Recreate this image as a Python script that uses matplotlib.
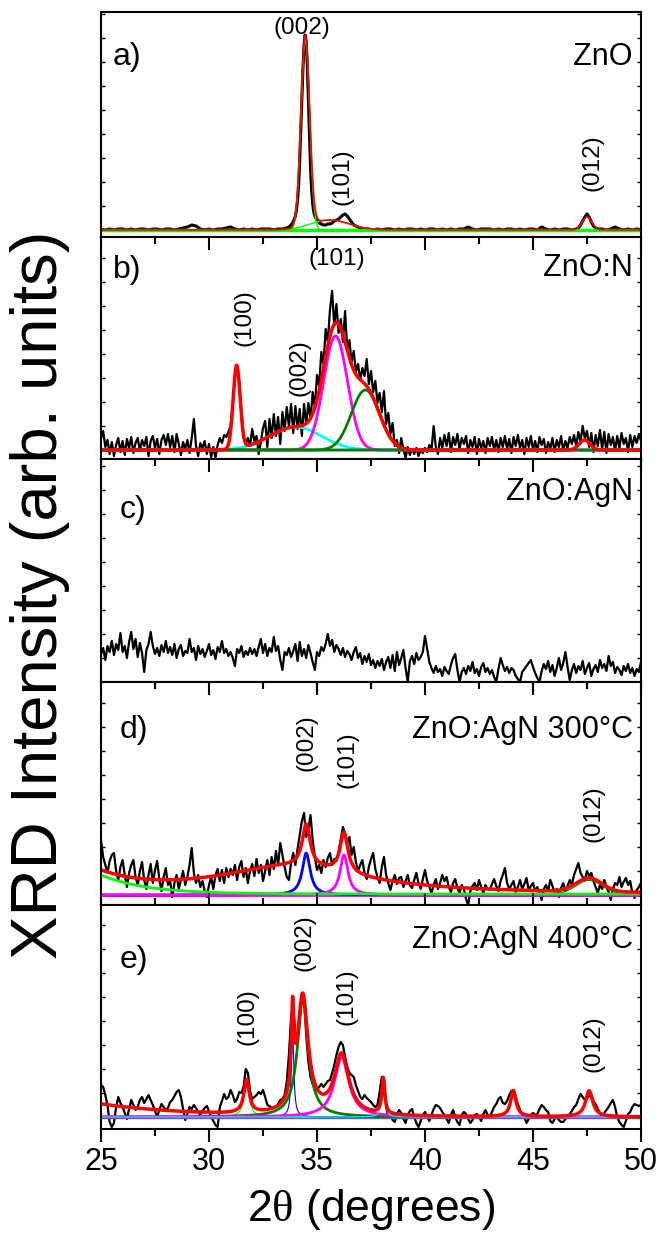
import numpy as np
import matplotlib
matplotlib.use("Agg")
import matplotlib.pyplot as plt
import matplotlib.transforms as mtransforms
from matplotlib.ticker import MultipleLocator

plt.rcParams['font.family'] = ['Liberation Sans', 'DejaVu Sans']
plt.rcParams['mathtext.fontset'] = 'custom'
plt.rcParams['mathtext.rm'] = 'Liberation Serif'

# ---------------------------------------------------------------- data
# a) ZnO : measured pattern (2theta, counts above baseline)
zno_2theta = np.round(np.concatenate([
    np.arange(25.0, 33.61, 0.2), np.arange(33.7, 33.95, 0.1),
    np.arange(34.0, 34.91, 0.05), np.arange(35.0, 36.81, 0.1),
    np.arange(37.0, 46.81, 0.2), np.arange(47.0, 48.01, 0.1),
    np.arange(48.2, 50.01, 0.2)]), 2)
zno_counts = [
    1, 0, 1, 0, 1, 1, 0, 1, 0, 1, 1, 0, 1, 1, 0, 1, 1, 0, 1, 2,
    3, 5, 4, 1, 0, 1, 0, 1, 1, 2, 3, 1, 0, 1, 0, 1, 0, 1, 1, 1, 0, 1, 1, 2,
    3, 5, 8,
    14, 20, 30, 45, 70, 100, 132, 162, 185, 195, 188, 165, 130, 95, 62, 40, 26, 18, 14,
    10, 7, 6, 5, 5, 6, 6, 7, 9, 10, 11, 13, 15, 16, 14, 11, 8, 5, 4,
    2, 1, 1, 0, 1, 0, 1, 1, 0, 1, 0, 1, 1, 0, 1, 0, 1, 1, 0, 1,
    0, 1, 0, 1, 1, 3, 1, 0, 1, 1, 1, 0, 1, 0, 1, 1, 0, 1, 0, 1,
    1, 0, 3, 1, 0, 1, 0, 1, 1, 0,
    1, 2, 5, 9, 13, 16, 13, 8, 4, 2, 1,
    1, 0, 1, 3, 1, 0, 1, 0, 1, 0]
zno_peaks_center = [34.46, 35.6, 47.5]
zno_peaks_height = [190, 10, 13]
zno_peaks_sigma = [0.20, 0.9, 0.22]

# b) ZnO:N
zno_n_counts = [
    12, 19, 3, 10, -4, 8, -6, 5, 12, -2, 9, -5, 11, 2, 13, -3, 7, 12, -1, 10,
    4, 13, -6, 9, 14, 2, 11, -4, 10, 15, 5, 16, 3, 14, -2, 16, 6, -5, 8, 1,
    10, -3, 12, 31, 4, -6, 7, 2, 9, -4, 6, -7, 3, -8, 5, 12, 7, 15, 13, 18,
    24, 46, 74, 84, 68, 38, 14, 6, 12, 4, 21, 9, 14, -4, 8, 22, 29, 3, 31, 12,
    36, 14, 33, 6, 38, 19, 43, 24, 46, 17, 44, 21, 41, 14, 46, 26, 47, 31, 58, 42,
    75, 64, 98, 86, 121, 108, 140, 159, 124, 146, 117, 131, 108, 139, 101, 110, 88, 99, 78, 86,
    70, 82, 74, 91, 66, 79, 58, 69, 47, 57, 38, 59, 26, 37, 16, 27, 4, 10, -3, 12,
    1, -8, 3, -5, 1, -4, 2, -6, 0, -3, 2, -2, 5, 0, 24, 3, -4, 12, 2, 15,
    4, 17, -2, 13, 5, 16, 1, 12, 6, 14, -3, 10, 3, 13, -4, 11, 2, 9, -3, 12,
    4, 13, 0, 10, -2, 12, 3, 14, 1, 11, -3, 13, 4, 15, 2, 10, -4, 12, 3, 14,
    0, 9, -2, 13, 5, 11, -3, 8, 1, 12, -2, 10, 3, 14, -1, 9, 2, 13, 6, 15,
    4, 18, 8, 24, 12, 19, 3, 17, -2, 15, 4, 20, 1, 18, -3, 16, 5, 13, -1, 14,
    2, 17, 6, 12, -2, 15, 3, 14, 7, 16, 9]
zno_n_100 = (31.28, 83, 0.16)
zno_n_002 = (34.0, 23, 1.2)
zno_n_101 = (35.86, 114, 0.55)
zno_n_shoulder = (37.24, 60, 0.65)
zno_n_012 = (47.39, 10, 0.25)

# c) ZnO:AgN
zno_agn_counts = [
    28, 34, 22, 36, 30, 41, 27, 38, 32, 49, 30, 36, 24, 40, 50, 33, 43, 25, 39, 29,
    10, 32, 38, 50, 36, 28, 34, 26, 37, 30, 41, 29, 35, 27, 38, 24, 33, 37, 26, 31,
    29, 43, 30, 34, 22, 36, 28, 33, 25, 31, 38, 27, 32, 23, 35, 30, 41, 29, 33, 26,
    30, 24, 16, 33, 29, 36, 25, 31, 27, 34, 28, 33, 26, 35, 43, 29, 38, 26, 34, 30,
    45, 31, 36, 22, 12, 30, 27, 34, 25, 31, 38, 21, 40, 26, 33, 24, 37, 29, 20, 12,
    30, 26, 35, 31, 38, 48, 36, 42, 30, 37, 33, 27, 34, 25, 31, 28, 22, 30, 35, 24,
    29, 18, 26, 20, 28, 17, 22, 14, 21, 16, 23, 12, 20, 25, 14, 27, 11, 30, 17, 24,
    32, 14, 0, 21, 26, 18, 29, 22, 25, 30, 46, 33, 20, 14, 9, 16, 10, 13, 6, 15,
    11, 8, 17, 24, 28, 12, 0, 10, 14, 8, 16, 11, 20, 9, 13, 6, 15, 19, 10, 14,
    8, 12, 5, 0, 13, 24, 17, 11, 15, 9, 14, 12, 6, 3, 0, 10, 13, 16, 19, 22,
    15, 9, 4, 0, 11, 18, 13, 21, 10, 17, 6, 14, 24, 12, 19, 30, 15, 2, 12, 18,
    9, 16, 12, 21, 8, 14, 19, 6, 13, 17, 10, 22, 14, 18, 11, 26, 16, 20, 9, 15,
    12, 7, 16, 11, 18, 9, 14, 6, 13, 10, 20]

# d) ZnO:AgN annealed at 300 C
agn300_counts = [
    55, 38, 30, 22, 34, 40, 42, 24, 15, 28, 35, 20, 8, 22, 30, 35, 18, 10, 24, 33,
    15, 6, 20, 31, 12, 25, 34, 16, 4, 18, 27, 10, 14, -2, 12, 20, 6, 15, 24, 10,
    18, 30, 47, 22, 12, 20, 8, 14, 4, -2, 10, 18, 6, 20, 26, 14, 25, 12, 27, 18,
    26, 20, 30, 15, 28, 34, 18, 27, 12, 24, 31, 19, 36, 22, 30, 14, 24, 35, 20, 38,
    26, 44, 30, 52, 40, 28, 18, 15, 32, 42, 30, 46, 60, 74, 82, 58, 66, 80, 55, 38,
    25, 30, 22, 35, 28, 37, 42, 30, 36, 34, 43, 56, 68, 61, 52, 58, 40, 48, 33, 24,
    30, 35, 22, 16, 28, 36, 42, 26, 18, 12, 28, 38, 20, 12, 5, 14, 20, 11, 17, 18,
    8, 14, 20, 10, 7, 15, 22, 12, 6, 16, 25, 14, 8, 2, 10, 16, 6, 12, 20, 14,
    18, 8, 3, 12, 16, 7, 2, 10, 6, -4, -10, 4, 9, 12, 5, 15, 8, 2, 10, 6,
    5, 11, 16, 9, 4, 14, 20, 27, 12, 6, 10, 14, 3, 8, 15, 6, 11, 17, 5, 9,
    12, 4, 8, 2, -5, 6, 10, 4, 15, 9, 3, 6, -2, 7, 12, 4, 9, 15, 10, 20,
    26, 32, 22, 18, 15, 24, 19, 22, 14, 8, 2, 10, 6, 15, 8, 3, -5, 6, 12, 10,
    18, 8, 13, 17, 10, 14, 2, -3, 5, 8, 12]
agn300_background = (19, 2.1, 1)          # amplitude, decay (deg), offset
agn300_broad = (33.8, 28, 4.2)
agn300_002 = (34.50, 42, 0.22)
agn300_101 = (36.25, 40, 0.22)
agn300_012 = (47.6, 13.6, 0.6)

# e) ZnO:AgN annealed at 400 C
agn400_counts = [
    32, 30, 22, 12, -5, -10, -6, 10, 20, 14, 10, 4, -2, 8, 17, 12, 7, 10, 17, 20,
    14, 18, 22, 17, 12, 6, 0, 7, 13, 10, 7, 9, 15, 17, 21, 25, 27, 20, 8, -3,
    3, 10, 8, 12, 9, 5, 2, 6, 9, 11, 6, 0, -4, -8, -10, 10, 16, 23, 18, 20,
    27, 22, 15, 18, 25, 24, 30, 48, 44, 26, 18, 20, 22, 25, 23, 27, 20, 12, 11, 9,
    10, 10, 13, 17, 18, 22, 35, 62, 100, 110, 82, 76, 98, 124, 120, 82, 55, 40, 33, 28,
    27, 30, 33, 30, 33, 36, 37, 44, 52, 62, 70, 75, 72, 60, 50, 44, 42, 40, 32, 26,
    20, 18, 22, 19, 17, 15, 12, 10, 12, 25, 40, 38, 10, 0, 2, -3, -5, 3, 7, 4,
    -2, -6, 2, 6, 8, 0, -6, -10, -4, 2, 5, 0, -4, 2, 8, 12, 11, 9, 5, 2,
    -2, -6, 2, 7, 0, -5, -8, 2, 5, 3, -2, -6, -3, 2, 3, 0, -4, 3, 7, 2,
    0, 5, 10, 13, 18, 20, 14, 13, 16, 22, 26, 27, 20, 13, 7, 3, 0, -6, -2, 2,
    4, 2, 3, 8, 12, 10, 7, 5, -4, -6, -2, 0, -3, -5, -5, -2, 0, 3, 6, 10,
    12, 18, 23, 20, 17, 19, 21, 23, 16, 13, 8, 4, 0, 4, 7, 10, 14, 17, 10, 0,
    -5, -8, -10, -4, 3, 5, 10, 13, 12, 11, 12]
agn400_background = (13, 4.0, 0)
agn400_100 = (31.74, 33, 0.15)
agn400_ag = (33.87, 83, 0.07)
agn400_002 = (34.34, 118, 0.30)
agn400_101 = (36.14, 60, 0.40)
agn400_380 = (38.07, 36, 0.08)
agn400_441 = (44.09, 26, 0.15)
agn400_012 = (47.60, 26, 0.20)

sample_names = ['ZnO', 'ZnO:N', 'ZnO:AgN', 'ZnO:AgN 300°C', 'ZnO:AgN 400°C']
panel_tags = ['a)', 'b)', 'c)', 'd)', 'e)']
x_ticks = [25, 30, 35, 40, 45, 50]


# ---------------------------------------------------------------- profiles
def gauss(x, p):
    c, h, s = p
    return h * np.exp(-0.5 * ((x - c) / s) ** 2)


def lorentz(x, p):
    c, h, w = p
    return h / (1.0 + ((x - c) / w) ** 2)


def expdecay(x, p):
    a, t, c = p
    return a * np.exp(-(x - 25.0) / t) + c


fine = np.linspace(25, 50, 2001)

# ---------------------------------------------------------------- figure
W_PX, H_PX = 662, 1235
fig = plt.figure(figsize=(W_PX / 100, H_PX / 100), dpi=100)
left_px, right_px = 101, 641
edges = [12, 237, 459, 682, 905, 1129]
ylims = [(-7, 218), (-9, 213), (0, 223), (-10, 213), (-12, 212)]
tag_pos = [(0.022, 0.80), (0.022, 0.85), (0.035, 0.77), (0.035, 0.785), (0.035, 0.755)]
name_y = [0.80, 0.86, 0.85, 0.785, 0.845]

axes = []
for i in range(5):
    top, bot = edges[i], edges[i + 1]
    ax = fig.add_axes([left_px / W_PX, 1 - bot / H_PX,
                       (right_px - left_px) / W_PX, (bot - top) / H_PX])
    ax.set_xlim(25, 50)
    ax.set_ylim(*ylims[i])
    for s in ax.spines.values():
        s.set_linewidth(1.5)
    ax.xaxis.set_major_locator(MultipleLocator(5))
    ax.xaxis.set_minor_locator(MultipleLocator(2.5))
    ax.yaxis.set_major_locator(MultipleLocator(24))
    ax.tick_params(axis='y', which='both', direction='in', length=3, width=1,
                   left=True, right=True, labelleft=False)
    ax.tick_params(axis='x', which='major', direction='in', length=9, width=1.5,
                   top=(i > 0), bottom=False, labelbottom=False)
    ax.tick_params(axis='x', which='minor', direction='in', length=5, width=1.5,
                   top=(i > 0), bottom=False)
    ax.text(tag_pos[i][0], tag_pos[i][1], panel_tags[i], transform=ax.transAxes,
            fontsize=23, ha='left', va='center')
    ax.text(0.985, name_y[i], sample_names[i],
            transform=ax.transAxes, fontsize=22, ha='right', va='center')
    axes.append(ax)

ax_e = axes[4]
ax_e.tick_params(axis='x', which='major', direction='out', length=9, width=1.5,
                 bottom=True, labelbottom=True, labelsize=22, pad=4)
ax_e.tick_params(axis='x', which='minor', direction='out', length=5, width=1.5,
                 bottom=True)
ax_e.set_xticks(x_ticks)
ax_e.set_xticklabels([str(t) for t in x_ticks])


def peak_label(ax, x, yfrac, text, rot=90):
    tr = mtransforms.blended_transform_factory(ax.transData, ax.transAxes)
    ax.text(x, yfrac, text, transform=tr, rotation=rot, fontsize=17.5,
            ha='center', va='center')


# a) ZnO
ax = axes[0]
ax.plot(zno_2theta, zno_counts, color='black', lw=2.2)
comps = [gauss(fine, p) for p in zip(zno_peaks_center, zno_peaks_height,
                                     zno_peaks_sigma)]
ax.axhline(0, color='#00ff00', lw=2.5)
for c in comps[:2]:
    ax.plot(fine, c, color='#00ff00', lw=1)
ax.plot(fine, sum(comps), color='red', lw=1.2)
peak_label(ax, 34.3, 0.93, '(002)', rot=0)
peak_label(ax, 36.2, 0.27, '(101)')
peak_label(ax, 47.75, 0.33, '(012)')

# b) ZnO:N
ax = axes[1]
ax.plot(np.linspace(25, 50, len(zno_n_counts)), zno_n_counts, color='black', lw=1.6)
ax.axhline(0, color='#000080', lw=1)
c100 = gauss(fine, zno_n_100)
c002 = gauss(fine, zno_n_002)
c101 = gauss(fine, zno_n_101)
csh = gauss(fine, zno_n_shoulder)
c012 = gauss(fine, zno_n_012)
ax.plot(fine, c002, color='#00ffff', lw=2)
ax.plot(fine, c101, color='#ff00ff', lw=2)
ax.plot(fine, csh, color='#008000', lw=2)
ax.plot(fine, c012, color='#008000', lw=2)
ax.plot(fine, c100 + c002 + c101 + csh + c012, color='red', lw=2.5)
peak_label(ax, 35.94, 0.90, '(101)', rot=0)
peak_label(ax, 31.65, 0.635, '(100)')
peak_label(ax, 34.18, 0.41, '(002)')

# c) ZnO:AgN
ax = axes[2]
ax.plot(np.linspace(25, 50, len(zno_agn_counts)), zno_agn_counts, color='black', lw=1.6)

# d) ZnO:AgN 300 C
ax = axes[3]
ax.plot(np.linspace(25, 50, len(agn300_counts)), agn300_counts, color='black', lw=1.6)
bg = expdecay(fine, agn300_background)
cb = lorentz(fine, agn300_broad)
c2 = lorentz(fine, agn300_002)
c1 = lorentz(fine, agn300_101)
c12 = gauss(fine, agn300_012)
ax.axhline(0, color='#ff00ff', lw=2)
ax.plot(fine, c2, color='#0000ff', lw=2)
ax.plot(fine, c1, color='#ff00ff', lw=2)
ax.plot(fine, c12 + bg, color='#008000', lw=0.8)
ax.plot(fine, bg, color='#00ff00', lw=2)
ax.plot(fine, bg + cb + c2 + c1 + c12, color='red', lw=2.5)
peak_label(ax, 34.5, 0.73, '(002)')
peak_label(ax, 36.4, 0.65, '(101)')
peak_label(ax, 47.8, 0.41, '(012)')

# e) ZnO:AgN 400 C
ax = axes[4]
ax.plot(np.linspace(25, 50, len(agn400_counts)), agn400_counts, color='black', lw=1.6)
bg = expdecay(fine, agn400_background)
p100 = lorentz(fine, agn400_100)
pag = lorentz(fine, agn400_ag)
p002 = lorentz(fine, agn400_002)
p101 = lorentz(fine, agn400_101)
p380 = lorentz(fine, agn400_380)
p441 = lorentz(fine, agn400_441)
p012 = lorentz(fine, agn400_012)
ax.axhline(0, color='#808080', lw=2)
ax.axhline(-1, color='#6060c0', lw=1)
ax.plot(fine, p100, color='#00ff00', lw=0.8)
ax.plot(fine, pag, color='#0000ff', lw=0.8)
ax.plot(fine, p002, color='#008000', lw=2)
ax.plot(fine, p101, color='#ff00ff', lw=2)
ax.plot(fine, p380, color='#00ffff', lw=0.8)
ax.plot(fine, bg + p100 + pag + p002 + p101 + p380 + p441 + p012,
        color='red', lw=2.5)
peak_label(ax, 31.8, 0.50, '(100)')
peak_label(ax, 34.4, 0.83, '(002)')
peak_label(ax, 36.35, 0.59, '(101)')
peak_label(ax, 47.8, 0.38, '(012)')

fig.text(40 / W_PX, 1 - 595 / H_PX, 'XRD Intensity (arb. units)', rotation=90,
         fontsize=47, ha='center', va='center')
fig.text(371 / W_PX, 1 - 1210 / H_PX, r'2$\mathrm{\theta}$ (degrees)', fontsize=32,
         ha='center', va='center')

fig.savefig('out.png', dpi=100)
